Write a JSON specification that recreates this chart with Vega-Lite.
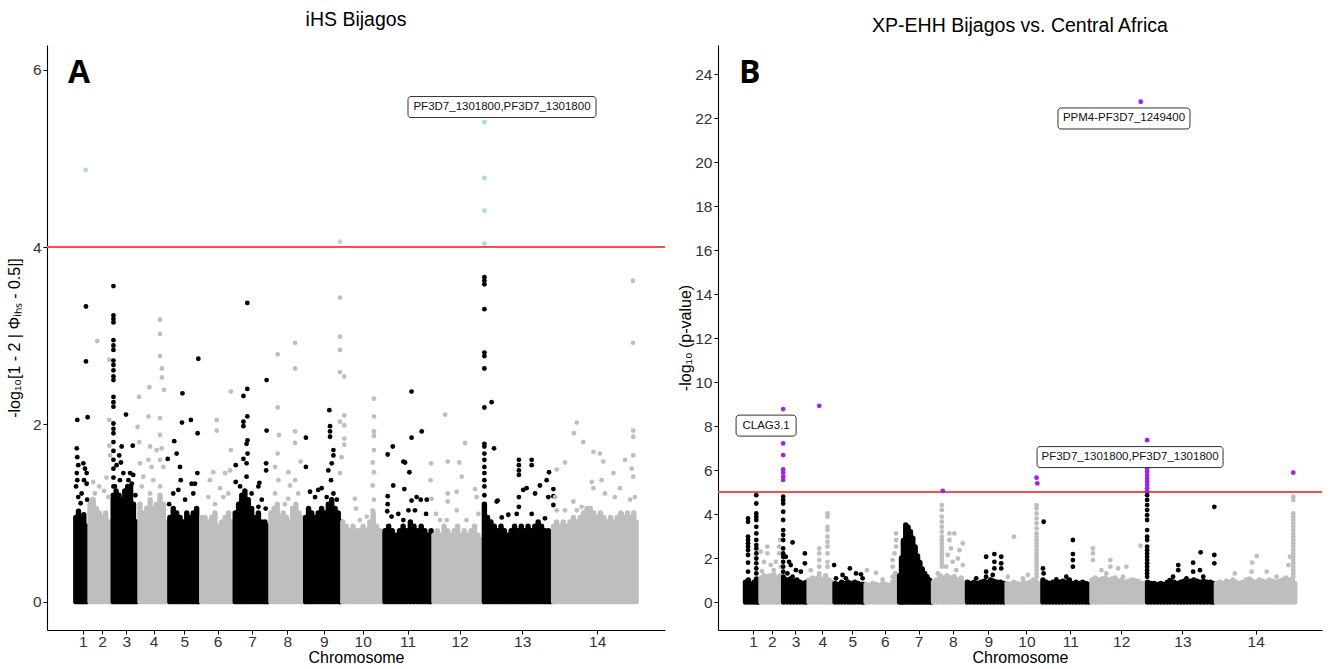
{
"$schema": "https://vega.github.io/schema/vega-lite/v6.json",
"background": "white",
"padding": {"left": 6, "right": 8, "top": 9, "bottom": 0},
"spacing": 11,
"resolve": {"scale": {"shape": "independent"}},
"config": {
  "view": {"stroke": null},
  "axis": {"grid": false, "domainColor": "#000000", "domainWidth": 1.1, "tickColor": "#000000", "tickWidth": 1, "tickSize": 4, "labelFont": "Liberation Sans", "labelFontSize": 15.5, "labelColor": "#333333", "labelPadding": 2, "titleFont": "Liberation Sans", "titleFontSize": 16, "titleFontWeight": "normal", "titleColor": "#000000"},
  "title": {"font": "Liberation Sans", "fontSize": 19.5, "fontWeight": "normal", "color": "#000000", "anchor": "middle"}
},
"datasets": {
"colsA": [
{"chr":1,"pos":0.03,"val":0.95},{"chr":1,"pos":0.14,"val":1.02},{"chr":1,"pos":0.25,"val":0.92},{"chr":1,"pos":0.36,"val":0.98},{"chr":1,"pos":0.47,"val":0.85},
{"chr":2,"pos":0.62,"val":1.1},{"chr":2,"pos":0.75,"val":1.15},{"chr":2,"pos":0.88,"val":1.05},{"chr":2,"pos":1.01,"val":1.0},{"chr":2,"pos":1.14,"val":0.95},{"chr":2,"pos":1.27,"val":1.0},{"chr":2,"pos":1.4,"val":0.9},{"chr":2,"pos":1.5,"val":0.85},
{"chr":3,"pos":1.58,"val":1.2},{"chr":3,"pos":1.7,"val":1.25},{"chr":3,"pos":1.82,"val":1.2},{"chr":3,"pos":1.94,"val":1.15},{"chr":3,"pos":2.06,"val":1.25},{"chr":3,"pos":2.18,"val":1.3},{"chr":3,"pos":2.3,"val":1.3},{"chr":3,"pos":2.42,"val":1.1},{"chr":3,"pos":2.54,"val":0.9},
{"chr":4,"pos":2.69,"val":1.1},{"chr":4,"pos":2.83,"val":1.0},{"chr":4,"pos":2.97,"val":1.05},{"chr":4,"pos":3.11,"val":1.15},{"chr":4,"pos":3.24,"val":1.05},{"chr":4,"pos":3.38,"val":1.1},{"chr":4,"pos":3.52,"val":1.2},{"chr":4,"pos":3.66,"val":1.1},{"chr":4,"pos":3.78,"val":0.9},
{"chr":5,"pos":3.93,"val":0.95},{"chr":5,"pos":4.07,"val":1.05},{"chr":5,"pos":4.21,"val":1.0},{"chr":5,"pos":4.35,"val":0.95},{"chr":5,"pos":4.49,"val":0.9},{"chr":5,"pos":4.63,"val":1.0},{"chr":5,"pos":4.76,"val":0.95},{"chr":5,"pos":4.9,"val":1.0},{"chr":5,"pos":5.04,"val":1.05},{"chr":5,"pos":5.14,"val":0.9},
{"chr":6,"pos":5.25,"val":0.95},{"chr":6,"pos":5.39,"val":0.95},{"chr":6,"pos":5.52,"val":0.9},{"chr":6,"pos":5.66,"val":0.95},{"chr":6,"pos":5.8,"val":1.0},{"chr":6,"pos":5.94,"val":0.85},{"chr":6,"pos":6.08,"val":0.9},{"chr":6,"pos":6.22,"val":0.95},{"chr":6,"pos":6.36,"val":1.0},{"chr":6,"pos":6.5,"val":0.9},
{"chr":7,"pos":6.64,"val":1.0},{"chr":7,"pos":6.78,"val":1.1},{"chr":7,"pos":6.91,"val":1.2},{"chr":7,"pos":7.04,"val":1.25},{"chr":7,"pos":7.18,"val":1.15},{"chr":7,"pos":7.32,"val":1.05},{"chr":7,"pos":7.46,"val":0.95},{"chr":7,"pos":7.6,"val":1.0},{"chr":7,"pos":7.74,"val":0.9},{"chr":7,"pos":7.87,"val":0.9},{"chr":7,"pos":7.98,"val":0.85},
{"chr":8,"pos":8.12,"val":1.0},{"chr":8,"pos":8.25,"val":1.05},{"chr":8,"pos":8.38,"val":1.1},{"chr":8,"pos":8.5,"val":0.95},{"chr":8,"pos":8.63,"val":1.0},{"chr":8,"pos":8.76,"val":0.95},{"chr":8,"pos":8.89,"val":0.9},{"chr":8,"pos":9.02,"val":1.05},{"chr":8,"pos":9.15,"val":1.1},{"chr":8,"pos":9.28,"val":1.0},{"chr":8,"pos":9.4,"val":0.95},{"chr":8,"pos":9.5,"val":0.9},
{"chr":9,"pos":9.56,"val":0.95},{"chr":9,"pos":9.68,"val":1.05},{"chr":9,"pos":9.81,"val":1.0},{"chr":9,"pos":9.95,"val":0.95},{"chr":9,"pos":10.08,"val":1.0},{"chr":9,"pos":10.22,"val":1.05},{"chr":9,"pos":10.36,"val":1.0},{"chr":9,"pos":10.5,"val":1.1},{"chr":9,"pos":10.64,"val":1.15},{"chr":9,"pos":10.78,"val":1.05},{"chr":9,"pos":10.91,"val":1.0},{"chr":9,"pos":11.0,"val":0.9},
{"chr":10,"pos":11.1,"val":0.9},{"chr":10,"pos":11.24,"val":0.85},{"chr":10,"pos":11.38,"val":0.8},{"chr":10,"pos":11.52,"val":0.85},{"chr":10,"pos":11.66,"val":0.8},{"chr":10,"pos":11.8,"val":0.8},{"chr":10,"pos":11.94,"val":0.85},{"chr":10,"pos":12.08,"val":0.8},{"chr":10,"pos":12.22,"val":0.9},{"chr":10,"pos":12.36,"val":1.0},{"chr":10,"pos":12.5,"val":0.85},{"chr":10,"pos":12.64,"val":0.8},{"chr":10,"pos":12.74,"val":0.75},
{"chr":11,"pos":12.85,"val":0.8},{"chr":11,"pos":13.0,"val":0.85},{"chr":11,"pos":13.15,"val":0.8},{"chr":11,"pos":13.3,"val":0.75},{"chr":11,"pos":13.45,"val":0.8},{"chr":11,"pos":13.6,"val":0.85},{"chr":11,"pos":13.75,"val":0.8},{"chr":11,"pos":13.9,"val":0.9},{"chr":11,"pos":14.05,"val":0.85},{"chr":11,"pos":14.2,"val":0.8},{"chr":11,"pos":14.35,"val":0.85},{"chr":11,"pos":14.5,"val":0.8},{"chr":11,"pos":14.65,"val":0.75},{"chr":11,"pos":14.76,"val":0.8},
{"chr":12,"pos":14.88,"val":0.75},{"chr":12,"pos":15.02,"val":0.8},{"chr":12,"pos":15.16,"val":0.75},{"chr":12,"pos":15.3,"val":0.85},{"chr":12,"pos":15.44,"val":0.8},{"chr":12,"pos":15.58,"val":0.75},{"chr":12,"pos":15.72,"val":0.8},{"chr":12,"pos":15.86,"val":0.85},{"chr":12,"pos":16.0,"val":0.75},{"chr":12,"pos":16.14,"val":0.8},{"chr":12,"pos":16.28,"val":0.75},{"chr":12,"pos":16.42,"val":0.8},{"chr":12,"pos":16.56,"val":0.85},{"chr":12,"pos":16.7,"val":0.75},{"chr":12,"pos":16.84,"val":0.7},
{"chr":13,"pos":16.97,"val":1.1},{"chr":13,"pos":17.1,"val":0.95},{"chr":13,"pos":17.24,"val":0.9},{"chr":13,"pos":17.38,"val":0.85},{"chr":13,"pos":17.52,"val":0.8},{"chr":13,"pos":17.66,"val":0.85},{"chr":13,"pos":17.8,"val":0.8},{"chr":13,"pos":17.94,"val":0.75},{"chr":13,"pos":18.08,"val":0.8},{"chr":13,"pos":18.22,"val":0.85},{"chr":13,"pos":18.36,"val":0.8},{"chr":13,"pos":18.5,"val":0.85},{"chr":13,"pos":18.64,"val":0.8},{"chr":13,"pos":18.78,"val":0.85},{"chr":13,"pos":18.92,"val":0.8},{"chr":13,"pos":19.06,"val":0.85},{"chr":13,"pos":19.2,"val":0.9},{"chr":13,"pos":19.34,"val":0.85},{"chr":13,"pos":19.48,"val":0.8},{"chr":13,"pos":19.62,"val":0.8},{"chr":13,"pos":19.74,"val":0.78},
{"chr":14,"pos":19.84,"val":0.85},{"chr":14,"pos":19.96,"val":0.9},{"chr":14,"pos":20.1,"val":0.85},{"chr":14,"pos":20.24,"val":0.9},{"chr":14,"pos":20.38,"val":0.85},{"chr":14,"pos":20.52,"val":0.9},{"chr":14,"pos":20.66,"val":0.95},{"chr":14,"pos":20.8,"val":0.9},{"chr":14,"pos":20.94,"val":0.95},{"chr":14,"pos":21.08,"val":1.0},{"chr":14,"pos":21.22,"val":1.05},{"chr":14,"pos":21.36,"val":1.05},{"chr":14,"pos":21.5,"val":1.0},{"chr":14,"pos":21.64,"val":0.95},{"chr":14,"pos":21.78,"val":1.0},{"chr":14,"pos":21.92,"val":0.95},{"chr":14,"pos":22.06,"val":0.9},{"chr":14,"pos":22.2,"val":0.95},{"chr":14,"pos":22.34,"val":0.9},{"chr":14,"pos":22.48,"val":0.95},{"chr":14,"pos":22.62,"val":1.0},{"chr":14,"pos":22.76,"val":0.95},{"chr":14,"pos":22.9,"val":1.0},{"chr":14,"pos":23.04,"val":0.95},{"chr":14,"pos":23.16,"val":1.0},{"chr":14,"pos":23.26,"val":0.9}
],
"ptsA": [
{"chr":1,"pos":0.44,"val":4.87},{"chr":1,"pos":0.45,"val":3.33},{"chr":1,"pos":0.45,"val":2.71},{"chr":1,"pos":0.09,"val":2.05},{"chr":1,"pos":0.52,"val":2.08},{"chr":1,"pos":0.07,"val":1.73},{"chr":1,"pos":0.09,"val":1.63},{"chr":1,"pos":0.13,"val":1.54},{"chr":1,"pos":0.07,"val":1.45},{"chr":1,"pos":0.09,"val":1.37},{"chr":1,"pos":0.04,"val":1.3},{"chr":1,"pos":0.13,"val":1.18},{"chr":1,"pos":0.34,"val":1.56},{"chr":1,"pos":0.41,"val":1.5},{"chr":1,"pos":0.48,"val":1.45},{"chr":1,"pos":0.37,"val":1.37},{"chr":1,"pos":0.48,"val":1.33},{"chr":1,"pos":0.27,"val":1.22},{"chr":1,"pos":0.5,"val":1.15},{"chr":1,"pos":0.23,"val":1.11},
{"chr":2,"pos":0.92,"val":2.94},{"chr":2,"pos":1.42,"val":2.73},{"chr":2,"pos":1.42,"val":2.05},{"chr":2,"pos":1.42,"val":1.76},{"chr":2,"pos":1.45,"val":1.65},{"chr":2,"pos":0.82,"val":1.22},{"chr":2,"pos":0.69,"val":1.15},{"chr":2,"pos":1.38,"val":1.18},{"chr":2,"pos":1.0,"val":1.3},{"chr":2,"pos":1.2,"val":1.25},{"chr":2,"pos":0.75,"val":1.35},{"chr":2,"pos":1.3,"val":1.4},
{"chr":3,"pos":1.59,"val":3.56},{"chr":3,"pos":1.59,"val":3.23},{"chr":3,"pos":1.59,"val":3.19},{"chr":3,"pos":1.59,"val":3.15},{"chr":3,"pos":1.59,"val":2.95},{"chr":3,"pos":1.59,"val":2.89},{"chr":3,"pos":1.59,"val":2.84},{"chr":3,"pos":1.59,"val":2.72},{"chr":3,"pos":1.59,"val":2.67},{"chr":3,"pos":1.59,"val":2.61},{"chr":3,"pos":1.59,"val":2.54},{"chr":3,"pos":1.59,"val":2.5},{"chr":3,"pos":1.59,"val":2.31},{"chr":3,"pos":1.59,"val":2.25},{"chr":3,"pos":1.59,"val":2.2},{"chr":3,"pos":1.59,"val":2.01},{"chr":3,"pos":1.59,"val":1.95},{"chr":3,"pos":1.59,"val":1.9},{"chr":3,"pos":1.59,"val":1.8},{"chr":3,"pos":1.59,"val":1.7},{"chr":3,"pos":1.59,"val":1.6},{"chr":3,"pos":1.59,"val":1.5},{"chr":3,"pos":1.59,"val":1.4},{"chr":3,"pos":1.59,"val":1.3},
{"chr":3,"pos":2.11,"val":2.11},{"chr":3,"pos":1.93,"val":1.75},{"chr":3,"pos":2.39,"val":1.76},{"chr":3,"pos":1.83,"val":1.65},{"chr":3,"pos":2.28,"val":1.45},{"chr":3,"pos":1.72,"val":1.54},{"chr":3,"pos":1.9,"val":1.57},{"chr":3,"pos":2.41,"val":1.43},{"chr":3,"pos":2.35,"val":1.33},{"chr":3,"pos":2.21,"val":1.37},{"chr":3,"pos":1.86,"val":1.37},{"chr":3,"pos":1.65,"val":1.3},{"chr":3,"pos":2.0,"val":1.45},{"chr":3,"pos":2.5,"val":1.2},
{"chr":4,"pos":3.52,"val":3.18},{"chr":4,"pos":3.52,"val":3.02},{"chr":4,"pos":3.52,"val":2.77},{"chr":4,"pos":3.6,"val":2.63},{"chr":4,"pos":3.6,"val":2.53},{"chr":4,"pos":3.69,"val":2.39},{"chr":4,"pos":3.08,"val":2.42},{"chr":4,"pos":2.65,"val":2.31},{"chr":4,"pos":3.04,"val":2.09},{"chr":4,"pos":3.52,"val":2.07},{"chr":4,"pos":2.59,"val":1.97},{"chr":4,"pos":3.52,"val":1.88},{"chr":4,"pos":2.66,"val":1.8},{"chr":4,"pos":3.11,"val":1.75},{"chr":4,"pos":3.38,"val":1.71},{"chr":4,"pos":3.59,"val":1.73},{"chr":4,"pos":2.69,"val":1.56},{"chr":4,"pos":3.04,"val":1.6},{"chr":4,"pos":3.17,"val":1.52},{"chr":4,"pos":3.52,"val":1.6},{"chr":4,"pos":3.66,"val":1.52},{"chr":4,"pos":2.83,"val":1.41},{"chr":4,"pos":3.24,"val":1.37},{"chr":4,"pos":2.76,"val":1.3},{"chr":4,"pos":3.52,"val":1.3},{"chr":4,"pos":3.11,"val":1.22},
{"chr":5,"pos":4.45,"val":2.35},{"chr":5,"pos":4.43,"val":2.02},{"chr":5,"pos":4.8,"val":2.05},{"chr":5,"pos":5.11,"val":2.74},{"chr":5,"pos":4.11,"val":1.81},{"chr":5,"pos":3.84,"val":1.61},{"chr":5,"pos":4.35,"val":1.52},{"chr":5,"pos":5.08,"val":1.9},{"chr":5,"pos":4.97,"val":1.33},{"chr":5,"pos":4.21,"val":1.67},{"chr":5,"pos":4.38,"val":1.37},{"chr":5,"pos":4.28,"val":1.26},{"chr":5,"pos":4.83,"val":1.33},{"chr":5,"pos":4.9,"val":1.22},{"chr":5,"pos":5.07,"val":1.45},{"chr":5,"pos":4.07,"val":1.22},{"chr":5,"pos":4.56,"val":1.15},{"chr":5,"pos":3.9,"val":1.1},
{"chr":6,"pos":5.87,"val":2.05},{"chr":6,"pos":5.87,"val":1.93},{"chr":6,"pos":6.46,"val":2.37},{"chr":6,"pos":6.46,"val":1.71},{"chr":6,"pos":5.73,"val":1.46},{"chr":6,"pos":5.59,"val":1.37},{"chr":6,"pos":6.22,"val":1.45},{"chr":6,"pos":6.42,"val":1.48},{"chr":6,"pos":6.01,"val":1.28},{"chr":6,"pos":5.52,"val":1.18},{"chr":6,"pos":6.15,"val":1.18},{"chr":6,"pos":5.8,"val":1.1},{"chr":6,"pos":6.35,"val":1.22},
{"chr":7,"pos":7.14,"val":3.37},{"chr":7,"pos":7.94,"val":2.5},{"chr":7,"pos":7.14,"val":2.4},{"chr":7,"pos":6.98,"val":2.32},{"chr":7,"pos":7.14,"val":2.09},{"chr":7,"pos":6.98,"val":2.03},{"chr":7,"pos":6.98,"val":1.98},{"chr":7,"pos":7.94,"val":1.93},{"chr":7,"pos":7.15,"val":1.82},{"chr":7,"pos":7.11,"val":1.78},{"chr":7,"pos":7.15,"val":1.67},{"chr":7,"pos":6.98,"val":1.61},{"chr":7,"pos":6.66,"val":1.54},{"chr":7,"pos":7.11,"val":1.56},{"chr":7,"pos":7.92,"val":1.56},{"chr":7,"pos":7.92,"val":1.48},{"chr":7,"pos":6.66,"val":1.35},{"chr":7,"pos":7.11,"val":1.41},{"chr":7,"pos":7.64,"val":1.34},{"chr":7,"pos":7.6,"val":1.3},{"chr":7,"pos":6.84,"val":1.3},{"chr":7,"pos":7.32,"val":1.22},{"chr":7,"pos":7.74,"val":1.15},{"chr":7,"pos":7.6,"val":1.07},{"chr":7,"pos":7.9,"val":1.05},
{"chr":8,"pos":8.4,"val":2.79},{"chr":8,"pos":9.12,"val":2.92},{"chr":8,"pos":9.12,"val":2.63},{"chr":8,"pos":8.4,"val":2.19},{"chr":8,"pos":8.45,"val":1.88},{"chr":8,"pos":9.12,"val":1.92},{"chr":8,"pos":9.12,"val":1.79},{"chr":8,"pos":9.35,"val":1.58},{"chr":8,"pos":8.4,"val":1.67},{"chr":8,"pos":8.29,"val":1.52},{"chr":8,"pos":8.84,"val":1.46},{"chr":8,"pos":9.12,"val":1.37},{"chr":8,"pos":8.91,"val":1.31},{"chr":8,"pos":8.43,"val":1.37},{"chr":8,"pos":8.29,"val":1.22},{"chr":8,"pos":8.84,"val":1.16},{"chr":8,"pos":9.25,"val":1.22},{"chr":8,"pos":8.7,"val":1.1},
{"chr":9,"pos":10.54,"val":2.16},{"chr":9,"pos":10.57,"val":1.98},{"chr":9,"pos":10.57,"val":1.92},{"chr":9,"pos":10.57,"val":1.86},{"chr":9,"pos":9.57,"val":1.85},{"chr":9,"pos":9.57,"val":1.52},{"chr":9,"pos":10.71,"val":1.71},{"chr":9,"pos":10.71,"val":1.65},{"chr":9,"pos":10.64,"val":1.56},{"chr":9,"pos":10.5,"val":1.48},{"chr":9,"pos":10.61,"val":1.37},{"chr":9,"pos":10.08,"val":1.26},{"chr":9,"pos":10.22,"val":1.28},{"chr":9,"pos":9.74,"val":1.24},{"chr":9,"pos":9.95,"val":1.18},{"chr":9,"pos":10.71,"val":1.22},{"chr":9,"pos":10.85,"val":1.15},{"chr":9,"pos":10.43,"val":1.18},
{"chr":10,"pos":10.98,"val":4.06},{"chr":10,"pos":10.98,"val":3.43},{"chr":10,"pos":10.98,"val":2.99},{"chr":10,"pos":10.98,"val":2.84},{"chr":10,"pos":10.98,"val":2.59},{"chr":10,"pos":11.16,"val":2.54},{"chr":10,"pos":11.16,"val":2.1},{"chr":10,"pos":10.98,"val":2.03},{"chr":10,"pos":11.16,"val":1.99},{"chr":10,"pos":11.16,"val":1.84},{"chr":10,"pos":11.16,"val":1.77},{"chr":10,"pos":11.05,"val":1.63},{"chr":10,"pos":10.98,"val":1.45},{"chr":10,"pos":12.39,"val":2.29},{"chr":10,"pos":12.39,"val":2.09},{"chr":10,"pos":12.39,"val":1.92},{"chr":10,"pos":12.39,"val":1.87},{"chr":10,"pos":12.39,"val":1.71},{"chr":10,"pos":12.34,"val":1.57},{"chr":10,"pos":12.39,"val":1.46},{"chr":10,"pos":12.34,"val":1.31},{"chr":10,"pos":12.39,"val":1.15},{"chr":10,"pos":12.34,"val":1.03},{"chr":10,"pos":11.6,"val":1.16},{"chr":10,"pos":11.65,"val":1.05},{"chr":10,"pos":12.09,"val":0.96},{"chr":10,"pos":11.81,"val":0.92},
{"chr":11,"pos":13.95,"val":2.37},{"chr":11,"pos":13.17,"val":1.75},{"chr":11,"pos":12.96,"val":1.66},{"chr":11,"pos":14.37,"val":1.92},{"chr":11,"pos":13.95,"val":1.85},{"chr":11,"pos":13.61,"val":1.58},{"chr":11,"pos":13.68,"val":1.57},{"chr":11,"pos":13.86,"val":1.46},{"chr":11,"pos":13.19,"val":1.31},{"chr":11,"pos":13.65,"val":1.27},{"chr":11,"pos":12.96,"val":1.19},{"chr":11,"pos":12.96,"val":1.1},{"chr":11,"pos":12.94,"val":1.02},{"chr":11,"pos":13.95,"val":1.14},{"chr":11,"pos":14.16,"val":1.18},{"chr":11,"pos":14.33,"val":1.15},{"chr":11,"pos":14.58,"val":1.15},{"chr":11,"pos":13.82,"val":1.03},{"chr":11,"pos":14.09,"val":1.03},{"chr":11,"pos":14.55,"val":0.99},{"chr":11,"pos":13.12,"val":0.96},{"chr":11,"pos":13.4,"val":0.99},{"chr":11,"pos":13.61,"val":0.92},
{"chr":12,"pos":15.34,"val":2.11},{"chr":12,"pos":15.45,"val":1.58},{"chr":12,"pos":14.76,"val":1.56},{"chr":12,"pos":14.74,"val":1.37},{"chr":12,"pos":15.93,"val":1.57},{"chr":12,"pos":16.03,"val":1.41},{"chr":12,"pos":16.17,"val":1.79},{"chr":12,"pos":15.82,"val":1.24},{"chr":12,"pos":15.45,"val":1.22},{"chr":12,"pos":15.45,"val":1.13},{"chr":12,"pos":16.58,"val":1.27},{"chr":12,"pos":16.65,"val":1.18},{"chr":12,"pos":16.72,"val":0.99},{"chr":12,"pos":15.13,"val":0.92},{"chr":12,"pos":15.41,"val":0.92},{"chr":12,"pos":15.82,"val":1.03},{"chr":12,"pos":16.23,"val":0.92},{"chr":12,"pos":14.78,"val":1.16},{"chr":12,"pos":14.96,"val":0.99},
{"chr":13,"pos":16.97,"val":5.41},{"chr":13,"pos":16.97,"val":4.78},{"chr":13,"pos":16.97,"val":4.41},{"chr":13,"pos":16.97,"val":4.04},{"chr":13,"pos":16.97,"val":3.66},{"chr":13,"pos":16.97,"val":3.62},{"chr":13,"pos":16.97,"val":3.58},{"chr":13,"pos":16.97,"val":3.3},{"chr":13,"pos":16.97,"val":2.81},{"chr":13,"pos":16.97,"val":2.77},{"chr":13,"pos":16.97,"val":2.63},{"chr":13,"pos":16.97,"val":2.19},{"chr":13,"pos":16.97,"val":1.78},{"chr":13,"pos":16.97,"val":1.75},{"chr":13,"pos":16.97,"val":1.67},{"chr":13,"pos":16.97,"val":1.6},{"chr":13,"pos":16.97,"val":1.52},{"chr":13,"pos":16.97,"val":1.45},{"chr":13,"pos":16.97,"val":1.37},{"chr":13,"pos":16.97,"val":1.3},{"chr":13,"pos":16.97,"val":1.2},
{"chr":13,"pos":17.27,"val":2.25},{"chr":13,"pos":17.37,"val":1.73},{"chr":13,"pos":17.48,"val":1.13},{"chr":13,"pos":17.52,"val":1.14},{"chr":13,"pos":18.4,"val":1.6},{"chr":13,"pos":18.4,"val":1.54},{"chr":13,"pos":18.4,"val":1.48},{"chr":13,"pos":18.4,"val":1.43},{"chr":13,"pos":18.93,"val":1.6},{"chr":13,"pos":18.93,"val":1.54},{"chr":13,"pos":19.65,"val":1.46},{"chr":13,"pos":19.55,"val":1.37},{"chr":13,"pos":19.27,"val":1.31},{"chr":13,"pos":19.83,"val":1.27},{"chr":13,"pos":19.83,"val":1.19},{"chr":13,"pos":19.83,"val":1.09},{"chr":13,"pos":18.72,"val":1.28},{"chr":13,"pos":18.58,"val":1.26},{"chr":13,"pos":18.4,"val":1.18},{"chr":13,"pos":18.4,"val":1.07},{"chr":13,"pos":19.07,"val":1.22},{"chr":13,"pos":17.69,"val":0.95},{"chr":13,"pos":17.96,"val":0.98},{"chr":13,"pos":18.31,"val":0.99},{"chr":13,"pos":18.93,"val":0.99},{"chr":13,"pos":19.48,"val":0.94},{"chr":13,"pos":19.62,"val":1.18},
{"chr":14,"pos":20.8,"val":2.02},{"chr":14,"pos":20.68,"val":1.9},{"chr":14,"pos":21.07,"val":1.8},{"chr":14,"pos":20.31,"val":1.57},{"chr":14,"pos":19.97,"val":1.49},{"chr":14,"pos":21.49,"val":1.69},{"chr":14,"pos":21.76,"val":1.67},{"chr":14,"pos":21.9,"val":1.58},{"chr":14,"pos":23.14,"val":1.93},{"chr":14,"pos":23.14,"val":1.86},{"chr":14,"pos":23.14,"val":1.65},{"chr":14,"pos":22.8,"val":1.6},{"chr":14,"pos":23.08,"val":1.5},{"chr":14,"pos":23.14,"val":1.41},{"chr":14,"pos":22.59,"val":1.28},{"chr":14,"pos":22.32,"val":1.45},{"chr":14,"pos":21.83,"val":1.37},{"chr":14,"pos":21.42,"val":1.35},{"chr":14,"pos":21.49,"val":1.28},{"chr":14,"pos":20.66,"val":1.13},{"chr":14,"pos":20.8,"val":1.03},{"chr":14,"pos":21.0,"val":1.07},{"chr":14,"pos":20.31,"val":1.03},{"chr":14,"pos":19.9,"val":1.18},{"chr":14,"pos":19.97,"val":1.03},{"chr":14,"pos":21.97,"val":1.22},{"chr":14,"pos":23.01,"val":1.15},{"chr":14,"pos":23.21,"val":1.18},{"chr":14,"pos":22.66,"val":0.99},{"chr":14,"pos":22.38,"val":1.18},{"chr":14,"pos":23.13,"val":3.62},{"chr":14,"pos":23.13,"val":2.92}
],
"colsB": [
{"chr":1,"pos":0.0,"val":0.9},{"chr":1,"pos":0.12,"val":1.0},{"chr":1,"pos":0.24,"val":0.8},{"chr":1,"pos":0.36,"val":0.9},{"chr":1,"pos":0.47,"val":1.05},{"chr":1,"pos":0.56,"val":0.75},
{"chr":2,"pos":0.66,"val":1.1},{"chr":2,"pos":0.79,"val":1.2},{"chr":2,"pos":0.92,"val":1.15},{"chr":2,"pos":1.06,"val":1.2},{"chr":2,"pos":1.2,"val":1.25},{"chr":2,"pos":1.34,"val":1.1},{"chr":2,"pos":1.48,"val":1.2},
{"chr":3,"pos":1.62,"val":1.1},{"chr":3,"pos":1.76,"val":1.0},{"chr":3,"pos":1.9,"val":1.05},{"chr":3,"pos":2.04,"val":0.95},{"chr":3,"pos":2.18,"val":1.0},{"chr":3,"pos":2.32,"val":0.9},{"chr":3,"pos":2.46,"val":0.85},{"chr":3,"pos":2.58,"val":0.9},
{"chr":4,"pos":2.7,"val":1.0},{"chr":4,"pos":2.84,"val":1.1},{"chr":4,"pos":2.98,"val":1.05},{"chr":4,"pos":3.12,"val":1.15},{"chr":4,"pos":3.26,"val":1.0},{"chr":4,"pos":3.4,"val":1.2},{"chr":4,"pos":3.54,"val":1.0},{"chr":4,"pos":3.66,"val":0.9},
{"chr":5,"pos":3.8,"val":0.85},{"chr":5,"pos":3.94,"val":0.8},{"chr":5,"pos":4.08,"val":0.9},{"chr":5,"pos":4.22,"val":0.85},{"chr":5,"pos":4.36,"val":0.9},{"chr":5,"pos":4.5,"val":0.85},{"chr":5,"pos":4.64,"val":0.9},{"chr":5,"pos":4.78,"val":0.85},{"chr":5,"pos":4.92,"val":0.8},{"chr":5,"pos":5.02,"val":0.8},
{"chr":6,"pos":5.12,"val":0.8},{"chr":6,"pos":5.26,"val":0.75},{"chr":6,"pos":5.4,"val":0.85},{"chr":6,"pos":5.54,"val":0.8},{"chr":6,"pos":5.68,"val":0.75},{"chr":6,"pos":5.82,"val":0.85},{"chr":6,"pos":5.96,"val":0.8},{"chr":6,"pos":6.1,"val":0.75},{"chr":6,"pos":6.24,"val":0.9},{"chr":6,"pos":6.36,"val":1.3},{"chr":6,"pos":6.46,"val":0.9},
{"chr":7,"pos":6.54,"val":1.2},{"chr":7,"pos":6.62,"val":2.0},{"chr":7,"pos":6.7,"val":2.8},{"chr":7,"pos":6.8,"val":3.5},{"chr":7,"pos":6.9,"val":3.4},{"chr":7,"pos":7.0,"val":3.2},{"chr":7,"pos":7.1,"val":2.9},{"chr":7,"pos":7.2,"val":2.5},{"chr":7,"pos":7.3,"val":2.1},{"chr":7,"pos":7.4,"val":1.8},{"chr":7,"pos":7.5,"val":1.5},{"chr":7,"pos":7.6,"val":1.3},{"chr":7,"pos":7.7,"val":1.15},{"chr":7,"pos":7.8,"val":1.0},{"chr":7,"pos":7.9,"val":0.9},
{"chr":8,"pos":7.98,"val":0.9},{"chr":8,"pos":8.1,"val":1.0},{"chr":8,"pos":8.25,"val":1.2},{"chr":8,"pos":8.4,"val":1.1},{"chr":8,"pos":8.55,"val":1.2},{"chr":8,"pos":8.7,"val":1.1},{"chr":8,"pos":8.85,"val":1.15},{"chr":8,"pos":9.0,"val":1.0},{"chr":8,"pos":9.15,"val":1.1},{"chr":8,"pos":9.3,"val":0.9},
{"chr":9,"pos":9.42,"val":0.9},{"chr":9,"pos":9.56,"val":0.85},{"chr":9,"pos":9.7,"val":0.9},{"chr":9,"pos":9.84,"val":0.85},{"chr":9,"pos":9.98,"val":0.9},{"chr":9,"pos":10.12,"val":0.95},{"chr":9,"pos":10.26,"val":0.9},{"chr":9,"pos":10.4,"val":1.0},{"chr":9,"pos":10.54,"val":0.95},{"chr":9,"pos":10.68,"val":0.9},{"chr":9,"pos":10.82,"val":0.9},{"chr":9,"pos":10.96,"val":0.85},
{"chr":10,"pos":11.1,"val":0.85},{"chr":10,"pos":11.24,"val":0.8},{"chr":10,"pos":11.38,"val":0.9},{"chr":10,"pos":11.52,"val":0.85},{"chr":10,"pos":11.66,"val":0.8},{"chr":10,"pos":11.8,"val":0.9},{"chr":10,"pos":11.94,"val":0.85},{"chr":10,"pos":12.08,"val":0.9},{"chr":10,"pos":12.22,"val":1.0},{"chr":10,"pos":12.36,"val":0.9},{"chr":10,"pos":12.5,"val":0.8},
{"chr":11,"pos":12.62,"val":1.0},{"chr":11,"pos":12.76,"val":0.9},{"chr":11,"pos":12.9,"val":0.85},{"chr":11,"pos":13.04,"val":0.9},{"chr":11,"pos":13.18,"val":0.85},{"chr":11,"pos":13.32,"val":0.9},{"chr":11,"pos":13.46,"val":0.95},{"chr":11,"pos":13.6,"val":0.9},{"chr":11,"pos":13.74,"val":1.0},{"chr":11,"pos":13.88,"val":0.85},{"chr":11,"pos":14.02,"val":0.9},{"chr":11,"pos":14.16,"val":0.85},{"chr":11,"pos":14.3,"val":0.9},{"chr":11,"pos":14.44,"val":0.85},{"chr":11,"pos":14.56,"val":0.8},
{"chr":12,"pos":14.7,"val":1.0},{"chr":12,"pos":14.84,"val":1.1},{"chr":12,"pos":14.98,"val":1.0},{"chr":12,"pos":15.12,"val":1.05},{"chr":12,"pos":15.26,"val":1.1},{"chr":12,"pos":15.4,"val":1.0},{"chr":12,"pos":15.54,"val":1.05},{"chr":12,"pos":15.68,"val":1.1},{"chr":12,"pos":15.82,"val":0.95},{"chr":12,"pos":15.96,"val":1.0},{"chr":12,"pos":16.1,"val":0.9},{"chr":12,"pos":16.24,"val":0.95},{"chr":12,"pos":16.38,"val":1.0},{"chr":12,"pos":16.52,"val":0.9},{"chr":12,"pos":16.66,"val":0.95},{"chr":12,"pos":16.8,"val":0.85},{"chr":12,"pos":16.92,"val":0.85},
{"chr":13,"pos":17.06,"val":0.9},{"chr":13,"pos":17.2,"val":0.85},{"chr":13,"pos":17.34,"val":0.85},{"chr":13,"pos":17.48,"val":0.8},{"chr":13,"pos":17.62,"val":0.85},{"chr":13,"pos":17.76,"val":0.8},{"chr":13,"pos":17.9,"val":0.9},{"chr":13,"pos":18.04,"val":0.95},{"chr":13,"pos":18.18,"val":0.9},{"chr":13,"pos":18.32,"val":0.85},{"chr":13,"pos":18.46,"val":0.9},{"chr":13,"pos":18.6,"val":0.95},{"chr":13,"pos":18.74,"val":0.9},{"chr":13,"pos":18.88,"val":0.95},{"chr":13,"pos":19.02,"val":1.0},{"chr":13,"pos":19.16,"val":0.95},{"chr":13,"pos":19.3,"val":0.9},{"chr":13,"pos":19.44,"val":0.95},{"chr":13,"pos":19.58,"val":0.9},{"chr":13,"pos":19.72,"val":0.9},{"chr":13,"pos":19.84,"val":0.85},
{"chr":14,"pos":19.98,"val":0.85},{"chr":14,"pos":20.12,"val":0.9},{"chr":14,"pos":20.26,"val":0.85},{"chr":14,"pos":20.4,"val":0.95},{"chr":14,"pos":20.54,"val":0.9},{"chr":14,"pos":20.68,"val":1.0},{"chr":14,"pos":20.82,"val":0.9},{"chr":14,"pos":20.96,"val":0.85},{"chr":14,"pos":21.1,"val":0.9},{"chr":14,"pos":21.24,"val":1.0},{"chr":14,"pos":21.38,"val":1.05},{"chr":14,"pos":21.52,"val":0.95},{"chr":14,"pos":21.66,"val":0.9},{"chr":14,"pos":21.8,"val":1.0},{"chr":14,"pos":21.94,"val":0.95},{"chr":14,"pos":22.08,"val":0.9},{"chr":14,"pos":22.22,"val":1.0},{"chr":14,"pos":22.36,"val":0.95},{"chr":14,"pos":22.5,"val":0.9},{"chr":14,"pos":22.64,"val":0.95},{"chr":14,"pos":22.78,"val":1.0},{"chr":14,"pos":22.92,"val":1.1},{"chr":14,"pos":23.06,"val":1.0},{"chr":14,"pos":23.2,"val":1.05},{"chr":14,"pos":23.3,"val":0.85}
],
"ptsB": [
{"chr":1,"pos":0.11,"val":3.8},{"chr":1,"pos":0.11,"val":3.65},{"chr":1,"pos":0.11,"val":2.97},{"chr":1,"pos":0.11,"val":2.82},{"chr":1,"pos":0.11,"val":2.67},{"chr":1,"pos":0.11,"val":2.52},{"chr":1,"pos":0.11,"val":2.36},{"chr":1,"pos":0.11,"val":2.14},{"chr":1,"pos":0.11,"val":1.79},{"chr":1,"pos":0.11,"val":1.38},
{"chr":1,"pos":0.46,"val":4.86},{"chr":1,"pos":0.46,"val":4.48},{"chr":1,"pos":0.46,"val":4.03},{"chr":1,"pos":0.46,"val":3.88},{"chr":1,"pos":0.46,"val":3.73},{"chr":1,"pos":0.46,"val":3.42},{"chr":1,"pos":0.46,"val":3.12},{"chr":1,"pos":0.46,"val":2.82},{"chr":1,"pos":0.46,"val":2.59},{"chr":1,"pos":0.46,"val":2.44},{"chr":1,"pos":0.46,"val":2.21},{"chr":1,"pos":0.46,"val":1.98},{"chr":1,"pos":0.46,"val":1.76},{"chr":1,"pos":0.46,"val":1.53},{"chr":1,"pos":0.46,"val":1.3},
{"chr":2,"pos":0.65,"val":2.29},{"chr":2,"pos":0.93,"val":2.52},{"chr":2,"pos":0.93,"val":2.21},{"chr":2,"pos":0.79,"val":1.83},{"chr":2,"pos":1.47,"val":2.82},{"chr":2,"pos":1.43,"val":2.52},{"chr":2,"pos":1.43,"val":2.21},{"chr":2,"pos":1.29,"val":1.83},{"chr":2,"pos":1.07,"val":1.68},{"chr":2,"pos":1.5,"val":1.61},{"chr":2,"pos":0.7,"val":1.4},{"chr":2,"pos":1.2,"val":1.45},
{"chr":3,"pos":1.6,"val":8.77},{"chr":3,"pos":1.6,"val":7.21},{"chr":3,"pos":1.6,"val":6.68},{"chr":3,"pos":1.6,"val":6.03},{"chr":3,"pos":1.6,"val":5.88},{"chr":3,"pos":1.6,"val":5.7},{"chr":3,"pos":1.6,"val":5.55},{"chr":3,"pos":1.6,"val":4.79},{"chr":3,"pos":1.6,"val":4.64},{"chr":3,"pos":1.6,"val":4.48},{"chr":3,"pos":1.6,"val":4.11},{"chr":3,"pos":1.6,"val":3.73},{"chr":3,"pos":1.6,"val":3.27},{"chr":3,"pos":1.6,"val":3.05},{"chr":3,"pos":1.6,"val":2.82},{"chr":3,"pos":1.6,"val":2.44},{"chr":3,"pos":1.6,"val":2.21},{"chr":3,"pos":1.6,"val":2.06},{"chr":3,"pos":1.6,"val":1.83},{"chr":3,"pos":1.6,"val":1.61},{"chr":3,"pos":1.6,"val":1.38},{"chr":3,"pos":1.6,"val":1.15},
{"chr":3,"pos":2.0,"val":2.71},{"chr":3,"pos":1.71,"val":2.06},{"chr":3,"pos":1.85,"val":1.83},{"chr":3,"pos":1.92,"val":1.68},{"chr":3,"pos":2.14,"val":1.45},{"chr":3,"pos":2.52,"val":2.21},{"chr":3,"pos":2.52,"val":1.76},{"chr":3,"pos":2.35,"val":1.38},{"chr":3,"pos":1.78,"val":1.3},{"chr":3,"pos":2.0,"val":1.15},
{"chr":4,"pos":3.13,"val":8.92},{"chr":4,"pos":3.48,"val":4.03},{"chr":4,"pos":3.48,"val":3.88},{"chr":4,"pos":3.48,"val":3.42},{"chr":4,"pos":3.48,"val":3.27},{"chr":4,"pos":3.48,"val":2.97},{"chr":4,"pos":3.48,"val":2.74},{"chr":4,"pos":3.48,"val":2.52},{"chr":4,"pos":3.48,"val":2.21},{"chr":4,"pos":3.48,"val":1.83},{"chr":4,"pos":3.48,"val":1.61},{"chr":4,"pos":3.13,"val":2.44},{"chr":4,"pos":3.13,"val":2.21},{"chr":4,"pos":3.13,"val":1.91},{"chr":4,"pos":3.13,"val":1.61},{"chr":4,"pos":3.13,"val":1.3},{"chr":4,"pos":2.77,"val":1.45},
{"chr":5,"pos":3.76,"val":1.68},{"chr":5,"pos":4.43,"val":1.53},{"chr":5,"pos":4.9,"val":1.26},{"chr":5,"pos":4.12,"val":1.23},{"chr":5,"pos":4.69,"val":1.3},{"chr":5,"pos":4.26,"val":1.08},{"chr":5,"pos":3.84,"val":1.08},{"chr":5,"pos":4.97,"val":1.08},
{"chr":6,"pos":5.15,"val":1.45},{"chr":6,"pos":5.54,"val":1.33},{"chr":6,"pos":5.82,"val":1.03},{"chr":6,"pos":6.24,"val":1.15},{"chr":6,"pos":6.39,"val":3.12},{"chr":6,"pos":6.39,"val":2.82},{"chr":6,"pos":6.39,"val":2.52},{"chr":6,"pos":6.32,"val":2.21},{"chr":6,"pos":6.24,"val":1.91},{"chr":6,"pos":6.24,"val":1.61},
{"chr":8,"pos":8.37,"val":5.05},{"chr":8,"pos":8.33,"val":4.41},{"chr":8,"pos":8.33,"val":4.18},{"chr":8,"pos":8.33,"val":3.88},{"chr":8,"pos":8.33,"val":3.65},{"chr":8,"pos":8.33,"val":3.42},{"chr":8,"pos":8.33,"val":3.2},{"chr":8,"pos":8.33,"val":2.97},{"chr":8,"pos":8.33,"val":2.82},{"chr":8,"pos":8.33,"val":2.67},{"chr":8,"pos":8.33,"val":2.52},{"chr":8,"pos":8.33,"val":2.36},{"chr":8,"pos":8.33,"val":2.21},{"chr":8,"pos":8.33,"val":2.06},{"chr":8,"pos":8.33,"val":1.91},{"chr":8,"pos":8.33,"val":1.76},{"chr":8,"pos":8.33,"val":1.61},
{"chr":8,"pos":8.65,"val":3.12},{"chr":8,"pos":8.86,"val":3.12},{"chr":8,"pos":8.65,"val":2.82},{"chr":8,"pos":9.22,"val":2.67},{"chr":8,"pos":8.72,"val":2.44},{"chr":8,"pos":9.08,"val":2.36},{"chr":8,"pos":8.58,"val":2.14},{"chr":8,"pos":9.01,"val":1.98},{"chr":8,"pos":8.79,"val":1.83},{"chr":8,"pos":9.22,"val":1.68},{"chr":8,"pos":8.51,"val":1.61},{"chr":8,"pos":8.94,"val":1.45},{"chr":8,"pos":8.16,"val":1.3},
{"chr":9,"pos":10.21,"val":2.06},{"chr":9,"pos":10.56,"val":2.18},{"chr":9,"pos":10.56,"val":1.83},{"chr":9,"pos":10.85,"val":2.06},{"chr":9,"pos":10.85,"val":1.76},{"chr":9,"pos":10.85,"val":1.53},{"chr":9,"pos":10.21,"val":1.38},{"chr":9,"pos":10.56,"val":1.53},{"chr":9,"pos":10.49,"val":1.23},{"chr":9,"pos":10.21,"val":1.15},{"chr":9,"pos":9.79,"val":1.08},
{"chr":10,"pos":12.35,"val":5.65},{"chr":10,"pos":12.38,"val":5.39},{"chr":10,"pos":12.35,"val":4.41},{"chr":10,"pos":12.35,"val":4.26},{"chr":10,"pos":12.35,"val":4.03},{"chr":10,"pos":12.35,"val":3.8},{"chr":10,"pos":12.35,"val":3.58},{"chr":10,"pos":12.35,"val":3.35},{"chr":10,"pos":12.35,"val":3.12},{"chr":10,"pos":12.35,"val":2.97},{"chr":10,"pos":12.35,"val":2.82},{"chr":10,"pos":12.35,"val":2.67},{"chr":10,"pos":12.35,"val":2.52},{"chr":10,"pos":12.35,"val":2.36},{"chr":10,"pos":12.35,"val":2.21},{"chr":10,"pos":12.35,"val":2.06},{"chr":10,"pos":12.35,"val":1.91},{"chr":10,"pos":12.35,"val":1.76},{"chr":10,"pos":12.35,"val":1.61},{"chr":10,"pos":12.35,"val":1.45},{"chr":10,"pos":12.35,"val":1.3},{"chr":10,"pos":12.35,"val":1.15},{"chr":10,"pos":11.39,"val":2.97},{"chr":10,"pos":11.13,"val":1.15},{"chr":10,"pos":11.77,"val":1.08},{"chr":10,"pos":11.98,"val":1.23},
{"chr":11,"pos":12.65,"val":3.65},{"chr":11,"pos":13.89,"val":2.82},{"chr":11,"pos":13.89,"val":2.18},{"chr":11,"pos":13.89,"val":1.91},{"chr":11,"pos":13.89,"val":1.61},{"chr":11,"pos":12.62,"val":1.53},{"chr":11,"pos":12.65,"val":1.3},{"chr":11,"pos":13.19,"val":1.03},{"chr":11,"pos":13.61,"val":1.15},
{"chr":12,"pos":14.74,"val":2.44},{"chr":12,"pos":14.74,"val":2.21},{"chr":12,"pos":14.74,"val":1.91},{"chr":12,"pos":15.48,"val":1.91},{"chr":12,"pos":15.48,"val":1.61},{"chr":12,"pos":15.31,"val":1.3},{"chr":12,"pos":15.81,"val":1.53},{"chr":12,"pos":16.02,"val":1.15},{"chr":12,"pos":15.1,"val":1.45},{"chr":12,"pos":16.76,"val":2.56},{"chr":12,"pos":16.16,"val":1.61},{"chr":12,"pos":16.51,"val":1.0},{"chr":12,"pos":16.77,"val":22.74},
{"chr":13,"pos":17.04,"val":7.36},{"chr":13,"pos":17.04,"val":6.08},{"chr":13,"pos":17.04,"val":5.92},{"chr":13,"pos":17.04,"val":5.77},{"chr":13,"pos":17.04,"val":5.62},{"chr":13,"pos":17.04,"val":5.47},{"chr":13,"pos":17.04,"val":5.32},{"chr":13,"pos":17.04,"val":5.17},{"chr":13,"pos":17.04,"val":5.02},{"chr":13,"pos":17.04,"val":4.86},{"chr":13,"pos":17.04,"val":4.64},{"chr":13,"pos":17.04,"val":4.41},{"chr":13,"pos":17.04,"val":4.18},{"chr":13,"pos":17.04,"val":3.95},{"chr":13,"pos":17.04,"val":3.73},{"chr":13,"pos":17.04,"val":3.27},{"chr":13,"pos":17.04,"val":2.97},{"chr":13,"pos":17.04,"val":2.82},{"chr":13,"pos":17.04,"val":2.52},{"chr":13,"pos":17.04,"val":2.36},{"chr":13,"pos":17.04,"val":2.21},{"chr":13,"pos":17.04,"val":2.06},{"chr":13,"pos":17.04,"val":1.91},{"chr":13,"pos":17.04,"val":1.76},{"chr":13,"pos":17.04,"val":1.61},{"chr":13,"pos":17.04,"val":1.45},{"chr":13,"pos":17.04,"val":1.3},{"chr":13,"pos":17.04,"val":1.15},
{"chr":13,"pos":18.36,"val":1.68},{"chr":13,"pos":18.36,"val":1.45},{"chr":13,"pos":18.99,"val":1.79},{"chr":13,"pos":18.99,"val":1.38},{"chr":13,"pos":19.31,"val":2.26},{"chr":13,"pos":19.89,"val":2.14},{"chr":13,"pos":19.89,"val":1.76},{"chr":13,"pos":19.89,"val":4.33},{"chr":13,"pos":18.14,"val":1.15},{"chr":13,"pos":18.71,"val":1.08},{"chr":13,"pos":19.28,"val":1.45},{"chr":13,"pos":19.42,"val":1.15},{"chr":13,"pos":18.0,"val":1.0},
{"chr":14,"pos":23.24,"val":5.88},{"chr":14,"pos":23.24,"val":4.79},{"chr":14,"pos":23.24,"val":4.64},{"chr":14,"pos":23.24,"val":4.03},{"chr":14,"pos":23.24,"val":3.88},{"chr":14,"pos":23.24,"val":3.73},{"chr":14,"pos":23.24,"val":3.58},{"chr":14,"pos":23.24,"val":3.42},{"chr":14,"pos":23.24,"val":3.27},{"chr":14,"pos":23.24,"val":3.12},{"chr":14,"pos":23.24,"val":2.97},{"chr":14,"pos":23.24,"val":2.82},{"chr":14,"pos":23.24,"val":2.67},{"chr":14,"pos":23.24,"val":2.52},{"chr":14,"pos":23.24,"val":2.36},{"chr":14,"pos":23.24,"val":2.21},{"chr":14,"pos":23.24,"val":2.06},{"chr":14,"pos":23.24,"val":1.91},{"chr":14,"pos":23.24,"val":1.76},{"chr":14,"pos":23.24,"val":1.61},{"chr":14,"pos":23.24,"val":1.45},{"chr":14,"pos":23.24,"val":1.3},{"chr":14,"pos":23.24,"val":1.15},
{"chr":14,"pos":21.69,"val":2.09},{"chr":14,"pos":21.5,"val":1.79},{"chr":14,"pos":20.76,"val":1.3},{"chr":14,"pos":21.47,"val":1.38},{"chr":14,"pos":22.11,"val":1.38},{"chr":14,"pos":22.53,"val":1.15},{"chr":14,"pos":23.03,"val":1.68},{"chr":14,"pos":23.1,"val":2.06}
],
"labA": [{"label":"PF3D7_1301800,PF3D7_1301800","pos":17.7,"val":5.58}],
"labB": [{"label":"CLAG3.1","pos":0.875,"val":8.02},{"label":"PF3D7_1301800,PF3D7_1301800","pos":16.315,"val":6.59},{"label":"PPM4-PF3D7_1249400","pos":16.058,"val":21.98}],
"letA": [{"letter":"A","pos":-0.29,"val":5.85}],
"letB": [{"letter":"B","pos":-0.27,"val":23.59}]
},
"hconcat": [
{
 "title": {"text": "iHS Bijagos", "offset": 15},
 "width": 618, "height": 585,
 "layer": [
  {"data": {"name": "colsA"}, "mark": {"type": "rule", "strokeWidth": 5.4, "strokeCap": "round"},
   "encoding": {
    "x": {"field": "pos", "type": "quantitative", "scale": {"domain": [-1.165, 24.458], "nice": false, "zero": false},
      "axis": {"title": "Chromosome", "values": [0.32,1.114,2.122,3.256,4.528,5.909,7.341,8.8,10.307,11.922,13.785,15.94,18.539,21.647], "labelExpr": "indexof([0.32,1.114,2.122,3.256,4.528,5.909,7.341,8.8,10.307,11.922,13.785,15.94,18.539,21.647], datum.value) + 1", "labelOverlap": false, "labelFlush": false, "labelPadding": 0, "titlePadding": 0}},
    "y": {"field": "val", "type": "quantitative", "scale": {"domain": [-0.32, 6.28], "nice": false, "zero": false},
      "axis": {"title": "-log₁₀[1 - 2 | Φᵢₕₛ - 0.5|]", "values": [0, 2, 4, 6], "format": "d", "titlePadding": 10}},
    "y2": {"datum": 0},
    "color": {"condition": {"test": "datum.chr % 2 == 1", "value": "#000000"}, "value": "#BEBEBE"}
   }},
  {"data": {"values": [{}]}, "mark": {"type": "rule", "color": "#FF4A4A", "strokeWidth": 2},
   "encoding": {"y": {"datum": 4, "type": "quantitative", "scale": {"domain": [-0.32, 6.28], "nice": false, "zero": false}}}},
  {"data": {"name": "ptsA"}, "mark": {"type": "circle", "size": 23, "opacity": 1},
   "encoding": {
    "x": {"field": "pos", "type": "quantitative", "scale": {"domain": [-1.165, 24.458], "nice": false, "zero": false}},
    "y": {"field": "val", "type": "quantitative", "scale": {"domain": [-0.32, 6.28], "nice": false, "zero": false}},
    "color": {"condition": [{"test": "datum.val > 4", "value": "#ADD8E6"}, {"test": "datum.chr % 2 == 1", "value": "#000000"}], "value": "#BEBEBE"}
   }},
  {"data": {"name": "labA"}, "mark": {"type": "point", "filled": true, "fill": "white", "stroke": "#333333", "strokeWidth": 1, "size": 4, "opacity": 1},
   "encoding": {
    "x": {"field": "pos", "type": "quantitative", "scale": {"domain": [-1.165, 24.458], "nice": false, "zero": false}},
    "y": {"field": "val", "type": "quantitative", "scale": {"domain": [-0.32, 6.28], "nice": false, "zero": false}},
    "shape": {"field": "label", "type": "nominal", "legend": null, "scale": {"domain": ["PF3D7_1301800,PF3D7_1301800"], "range": ["M-91,-10.5H91A3,3,0,0,1,94,-7.5V7.5A3,3,0,0,1,91,10.5H-91A3,3,0,0,1,-94,7.5V-7.5A3,3,0,0,1,-91,-10.5Z"]}}
   }},
  {"data": {"name": "labA"}, "mark": {"type": "text", "font": "Liberation Sans", "fontSize": 11.5, "color": "#111111", "align": "center", "baseline": "middle"},
   "encoding": {
    "x": {"field": "pos", "type": "quantitative", "scale": {"domain": [-1.165, 24.458], "nice": false, "zero": false}},
    "y": {"field": "val", "type": "quantitative", "scale": {"domain": [-0.32, 6.28], "nice": false, "zero": false}},
    "text": {"field": "label"}
   }},
  {"data": {"name": "letA"}, "mark": {"type": "text", "font": "Open Sans", "fontWeight": "bold", "fontSize": 32, "color": "#000000", "align": "left", "baseline": "alphabetic"},
   "encoding": {
    "x": {"field": "pos", "type": "quantitative", "scale": {"domain": [-1.165, 24.458], "nice": false, "zero": false}},
    "y": {"field": "val", "type": "quantitative", "scale": {"domain": [-0.32, 6.28], "nice": false, "zero": false}},
    "text": {"field": "letter"}
   }}
 ]
},
{
 "title": {"text": "XP-EHH Bijagos vs. Central Africa", "offset": 9},
 "width": 604, "height": 585,
 "layer": [
  {"data": {"name": "colsB"}, "mark": {"type": "rule", "strokeWidth": 5.4, "strokeCap": "round"},
   "encoding": {
    "x": {"field": "pos", "type": "quantitative", "scale": {"domain": [-1.165, 24.458], "nice": false, "zero": false},
      "axis": {"title": "Chromosome", "values": [0.32,1.114,2.122,3.256,4.528,5.909,7.341,8.8,10.307,11.922,13.785,15.94,18.539,21.647], "labelExpr": "indexof([0.32,1.114,2.122,3.256,4.528,5.909,7.341,8.8,10.307,11.922,13.785,15.94,18.539,21.647], datum.value) + 1", "labelOverlap": false, "labelFlush": false, "labelPadding": 0, "titlePadding": 0}},
    "y": {"field": "val", "type": "quantitative", "scale": {"domain": [-1.27, 25.32], "nice": false, "zero": false},
      "axis": {"title": "-log₁₀ (p-value)", "values": [0,2,4,6,8,10,12,14,16,18,20,22,24], "format": "d", "titlePadding": 1}},
    "y2": {"datum": 0},
    "color": {"condition": {"test": "datum.chr % 2 == 1", "value": "#000000"}, "value": "#BEBEBE"}
   }},
  {"data": {"values": [{}]}, "mark": {"type": "rule", "color": "#FF4A4A", "strokeWidth": 2},
   "encoding": {"y": {"datum": 5, "type": "quantitative", "scale": {"domain": [-1.27, 25.32], "nice": false, "zero": false}}}},
  {"data": {"name": "ptsB"}, "mark": {"type": "circle", "size": 23, "opacity": 1},
   "encoding": {
    "x": {"field": "pos", "type": "quantitative", "scale": {"domain": [-1.165, 24.458], "nice": false, "zero": false}},
    "y": {"field": "val", "type": "quantitative", "scale": {"domain": [-1.27, 25.32], "nice": false, "zero": false}},
    "color": {"condition": [{"test": "datum.val > 5", "value": "#A020F0"}, {"test": "datum.chr % 2 == 1", "value": "#000000"}], "value": "#BEBEBE"}
   }},
  {"data": {"name": "labB"}, "mark": {"type": "point", "filled": true, "fill": "white", "stroke": "#333333", "strokeWidth": 1, "size": 4, "opacity": 1},
   "encoding": {
    "x": {"field": "pos", "type": "quantitative", "scale": {"domain": [-1.165, 24.458], "nice": false, "zero": false}},
    "y": {"field": "val", "type": "quantitative", "scale": {"domain": [-1.27, 25.32], "nice": false, "zero": false}},
    "shape": {"field": "label", "type": "nominal", "legend": null, "scale": {"domain": ["CLAG3.1", "PF3D7_1301800,PF3D7_1301800", "PPM4-PF3D7_1249400"], "range": ["M-27,-10.5H27A3,3,0,0,1,30,-7.5V7.5A3,3,0,0,1,27,10.5H-27A3,3,0,0,1,-30,7.5V-7.5A3,3,0,0,1,-27,-10.5Z", "M-90,-10.5H90A3,3,0,0,1,93,-7.5V7.5A3,3,0,0,1,90,10.5H-90A3,3,0,0,1,-93,7.5V-7.5A3,3,0,0,1,-90,-10.5Z", "M-63,-10.5H63A3,3,0,0,1,66,-7.5V7.5A3,3,0,0,1,63,10.5H-63A3,3,0,0,1,-66,7.5V-7.5A3,3,0,0,1,-63,-10.5Z"]}}
   }},
  {"data": {"name": "labB"}, "mark": {"type": "text", "font": "Liberation Sans", "fontSize": 11.5, "color": "#111111", "align": "center", "baseline": "middle"},
   "encoding": {
    "x": {"field": "pos", "type": "quantitative", "scale": {"domain": [-1.165, 24.458], "nice": false, "zero": false}},
    "y": {"field": "val", "type": "quantitative", "scale": {"domain": [-1.27, 25.32], "nice": false, "zero": false}},
    "text": {"field": "label"}
   }},
  {"data": {"name": "letB"}, "mark": {"type": "text", "font": "Open Sans", "fontWeight": "bold", "fontSize": 32, "color": "#000000", "align": "left", "baseline": "alphabetic"},
   "encoding": {
    "x": {"field": "pos", "type": "quantitative", "scale": {"domain": [-1.165, 24.458], "nice": false, "zero": false}},
    "y": {"field": "val", "type": "quantitative", "scale": {"domain": [-1.27, 25.32], "nice": false, "zero": false}},
    "text": {"field": "letter"}
   }}
 ]
}
]
}
